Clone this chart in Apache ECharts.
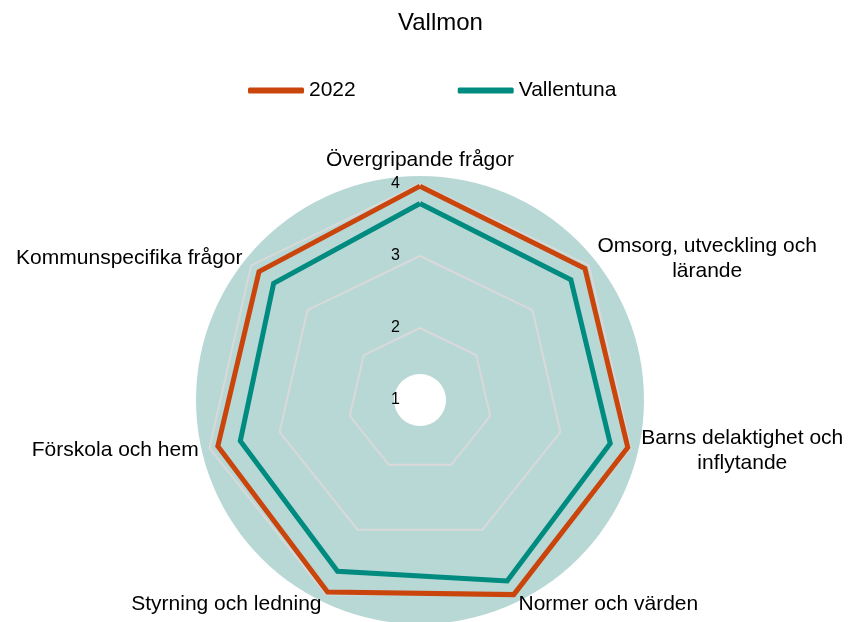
<!DOCTYPE html>
<html>
<head>
<meta charset="utf-8">
<script src="https://cdn.jsdelivr.net/npm/echarts@6/dist/echarts.min.js"></script>
<style>
  html, body { margin: 0; padding: 0; background: #fff; }
  #chart { width: 852px; height: 622px; }
</style>
</head>
<body>
<div id="chart"></div>
<script>
// axes in clockwise order, starting at the top
const categories = [
  "Övergripande frågor",
  "Omsorg, utveckling och\nlärande",
  "Barns delaktighet och\ninflytande",
  "Normer och värden",
  "Styrning och ledning",
  "Förskola och hem",
  "Kommunspecifika frågor"
];
const values2022 = [3.97, 3.93, 3.96, 4.0, 3.96, 3.88, 3.86];
const valuesVallentuna = [3.73, 3.68, 3.71, 3.79, 3.64, 3.56, 3.6];
const seriesNames = ["2022", "Vallentuna"];
const scaleMin = 1;
const scaleMax = 4;

// echarts lays radar axes out counter-clockwise, so flip the order after the first
const order = [0, 6, 5, 4, 3, 2, 1];
const pick = arr => order.map(i => arr[i]);

const FONT = "'Liberation Sans', Arial, sans-serif";

let chart = echarts.init(document.getElementById("chart"));
let option = {
  title: {
    text: "Vallmon",
    left: 393,
    top: 6,
    textStyle: { fontFamily: FONT, fontSize: 24, fontWeight: "normal", color: "#000" }
  },
  legend: {
    data: seriesNames,
    left: 243,
    top: 75,
    icon: "roundRect",
    itemWidth: 56,
    itemHeight: 6,
    itemGap: 102,
    textStyle: { fontFamily: FONT, fontSize: 21, color: "#000" }
  },
  graphic: [
    {
      type: "circle",
      shape: { cx: 420, cy: 400, r: 224 },
      style: { fill: "#b8d8d5" },
      z: -10,
      silent: true
    },
    {
      type: "circle",
      shape: { cx: 420, cy: 400, r: 26 },
      style: { fill: "#fff" },
      z: -9,
      silent: true
    }
  ],
  radar: {
    center: [420, 400],
    radius: 216,
    startAngle: 90,
    splitNumber: 3,
    nameGap: 11,
    indicator: pick(categories).map((name, i) => {
      let ind = { name: name, min: scaleMin, max: scaleMax };
      if (i === 0) {
        ind.axisLabel = {
          show: true,
          fontFamily: FONT,
          fontSize: 16,
          color: "#000",
          margin: 20
        };
      }
      return ind;
    }),
    axisName: {
      color: "#000",
      fontFamily: FONT,
      fontSize: 21,
      formatter: function (name) {
        return name.split("\n").map(s => "{c|" + s + "}").join("\n");
      },
      rich: {
        c: { align: "center", fontFamily: FONT, fontSize: 21, color: "#000", lineHeight: 25 }
      }
    },
    axisLine: { show: false },
    axisTick: { show: false },
    axisLabel: { show: false },
    splitLine: { lineStyle: { color: "#d9d9d9", width: 2 } },
    splitArea: { show: false }
  },
  series: [
    {
      type: "radar",
      symbol: "none",
      z: 3,
      data: [
        {
          name: seriesNames[0],
          value: pick(values2022),
          lineStyle: { color: "#c9450c", width: 5, join: "miter" },
          itemStyle: { color: "#c9450c" }
        },
        {
          name: seriesNames[1],
          value: pick(valuesVallentuna),
          lineStyle: { color: "#008b80", width: 5, join: "miter" },
          itemStyle: { color: "#008b80" }
        }
      ]
    }
  ]
};
chart.setOption(option);
</script>
</body>
</html>
